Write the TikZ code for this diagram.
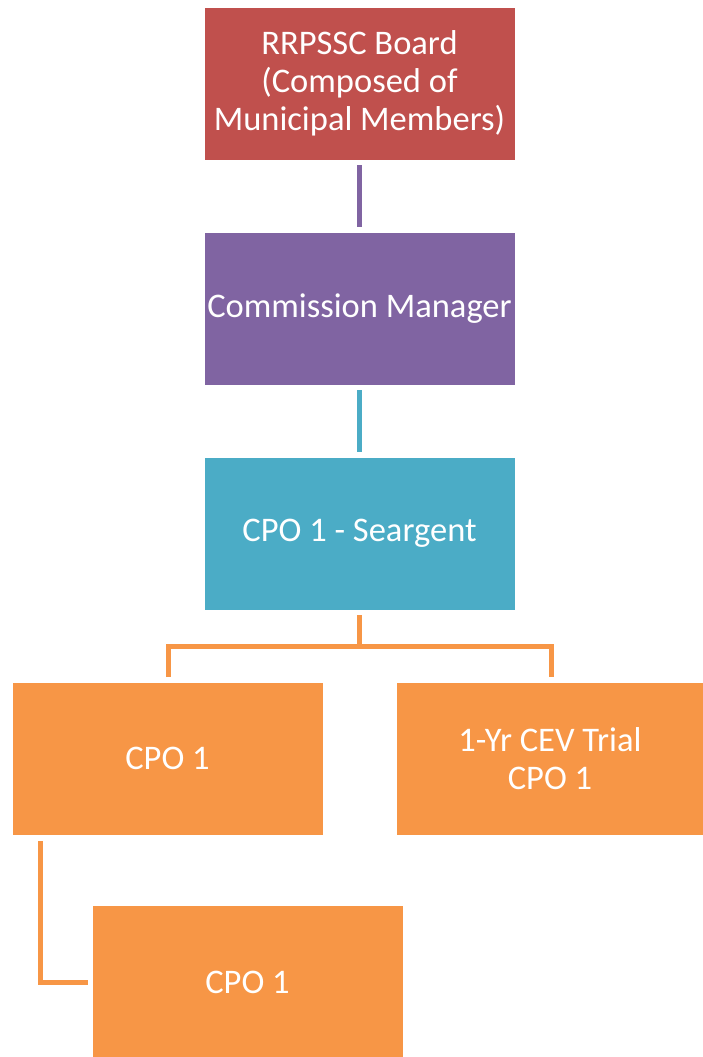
\documentclass[tikz,border=0pt]{standalone}
\usepackage{fontspec}
\setmainfont{Carlito}
\definecolor{cred}{HTML}{C0504D}
\definecolor{cpurple}{HTML}{8064A2}
\definecolor{cteal}{HTML}{4BACC6}
\definecolor{corange}{HTML}{F79646}
\begin{document}
\begin{tikzpicture}[x=1pt,y=-1pt,
  box/.style={draw=white,line width=0.8pt,minimum width=311pt,minimum height=153pt,inner sep=0pt,
    text=white,align=center,font=\fontsize{34.5}{38}\selectfont},
  link/.style={line width=5pt}]
\useasboundingbox (0,0) rectangle (702,1057);
\node[box,fill=cred] (board) at (359.5,83.5) {RRPSSC Board\\(Composed of\\Municipal Members)};
\node[box,fill=cpurple] (mgr) at (359.5,308.5) {Commission Manager};
\node[box,fill=cteal] (sgt) at (359.5,533.5) {CPO 1 - Seargent};
\node[box,fill=corange] (cpoa) at (167.5,758.5) {CPO 1};
\node[box,fill=corange,minimum width=308pt] (trial) at (550,758.5) {1-Yr CEV Trial\\CPO 1};
\node[box,fill=corange] (cpob) at (247.5,982) {CPO 1};
\coordinate (j1) at (359.5,646);
\draw[link,cpurple] ([yshift=-5]board.south) -- ([yshift=5]mgr.north);
\draw[link,cteal] ([yshift=-5]mgr.south) -- ([yshift=5]sgt.north);
\draw[link,corange] ([yshift=-5]sgt.south) -- (j1);
\draw[link,corange] (168,677) |- (j1) -| (551,677);
\draw[link,corange] (40.5,841) |- ([xshift=-4]cpob.west);
\end{tikzpicture}
\end{document}
